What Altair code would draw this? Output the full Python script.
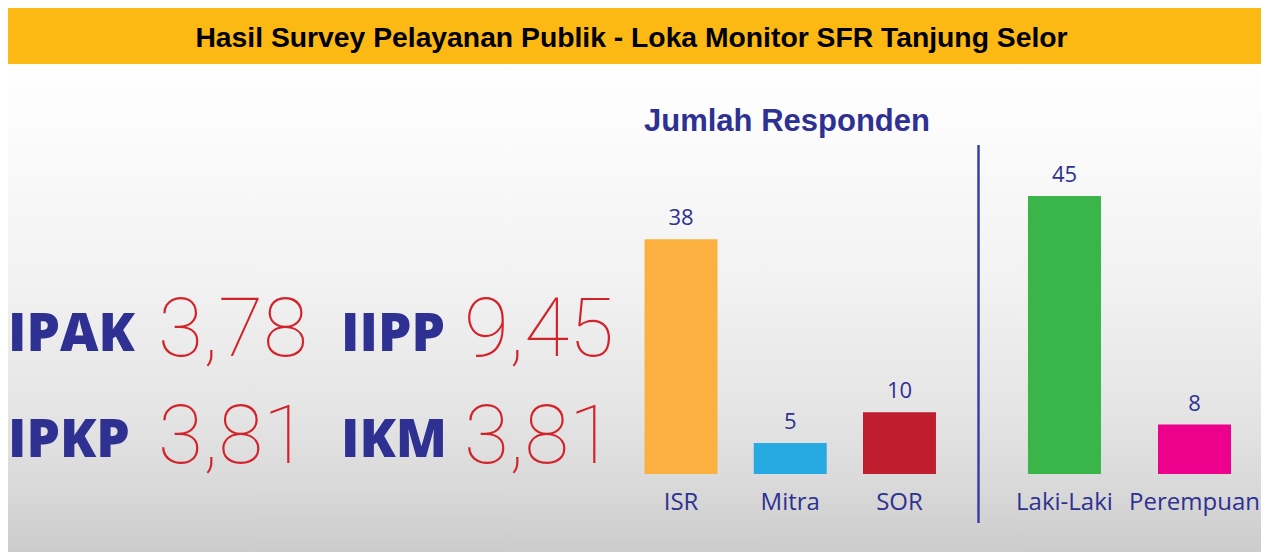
import altair as alt
import pandas as pd

# ---------------- data ----------------
title_text = "Hasil Survey Pelayanan Publik - Loka Monitor SFR Tanjung Selor"
subtitle_text = "Jumlah Responden"

index_names = ["IPAK", "IIPP", "IPKP", "IKM"]
index_values = ["3,78", "9,45", "3,81", "3,81"]

group1_cats = ["ISR", "Mitra", "SOR"]
group1_vals = [38, 5, 10]
group1_colors = ["#FBB040", "#27AAE1", "#BE1E2D"]

group2_cats = ["Laki-Laki", "Perempuan"]
group2_vals = [45, 8]
group2_colors = ["#39B54A", "#EC008C"]

# ---------------- layout / style ----------------
W, H = 1253, 544
NAVY = "#2E3192"
RED = "#D2232A"
YELLOW = "#FCB813"

one = pd.DataFrame({"k": [0]})

bg = alt.Chart(one).mark_rect(
    color=alt.LinearGradient(
        gradient="linear", x1=0, x2=0, y1=0, y2=1,
        stops=[
            alt.GradientStop(color="#ffffff", offset=0),
            alt.GradientStop(color="#fdfdfd", offset=0.18),
            alt.GradientStop(color="#f2f2f2", offset=0.5),
            alt.GradientStop(color="#e4e4e4", offset=0.75),
            alt.GradientStop(color="#d9d9d9", offset=0.88),
            alt.GradientStop(color="#cccccc", offset=1),
        ],
    )
).encode(x=alt.value(0), x2=alt.value(W), y=alt.value(0), y2=alt.value(H))

title_bar = alt.Chart(one).mark_rect(color=YELLOW).encode(
    x=alt.value(0), x2=alt.value(W), y=alt.value(0), y2=alt.value(56)
)

title = alt.Chart(pd.DataFrame({"t": [title_text]})).mark_text(
    font="Liberation Sans", fontSize=28.3, fontWeight="bold", color="#000000",
    align="center", baseline="alphabetic",
).encode(x=alt.value(623.5), y=alt.value(39), text="t:N")

subtitle = alt.Chart(pd.DataFrame({"t": [subtitle_text]})).mark_text(
    font="Liberation Sans", fontSize=31, fontWeight="bold", color=NAVY,
    align="left", baseline="alphabetic",
).encode(x=alt.value(636), y=alt.value(123), text="t:N")

name_x = [0, 333, 0, 333]
name_y = [343, 343, 449, 449]
val_x = [150, 456, 150, 456]
val_y = [347.5, 347.5, 454.5, 454.5]

index_layers = []
for i in range(len(index_names)):
    d = pd.DataFrame({"name": [index_names[i]], "value": [index_values[i]]})
    index_layers.append(
        alt.Chart(d).mark_text(
            font="Open Sans", fontSize=53, fontWeight=800, color=NAVY,
            align="left", baseline="alphabetic",
        ).encode(x=alt.value(name_x[i]), y=alt.value(name_y[i]), text="name:N")
    )
    index_layers.append(
        alt.Chart(d).mark_text(
            font="Roboto", fontSize=82, fontWeight=100, color=RED,
            align="left", baseline="alphabetic",
        ).encode(x=alt.value(val_x[i]), y=alt.value(val_y[i]), text="value:N")
    )

divider = alt.Chart(one).mark_rule(color="#3B40A0", strokeWidth=2.5).encode(
    x=alt.value(970.5), y=alt.value(137), y2=alt.value(515)
)


def bar_group(cats, vals, colors, rng, pi, po):
    df = pd.DataFrame({"cat": cats, "val": vals})
    xs = alt.X(
        "cat:N", sort=cats, axis=None,
        scale=alt.Scale(domain=cats, range=rng, paddingInner=pi, paddingOuter=po),
    )
    ys = alt.Y("val:Q", axis=None, scale=alt.Scale(domain=[0, 50], range=[466, 157]))
    bars = alt.Chart(df).mark_bar().encode(
        x=xs, y=ys,
        color=alt.Color("cat:N", legend=None, scale=alt.Scale(domain=cats, range=colors)),
    )
    vlab = alt.Chart(df).mark_text(
        dy=-14, baseline="alphabetic", align="center",
        font="Open Sans", fontSize=22, color=NAVY,
    ).encode(x=xs, y=ys, text="val:Q")
    clab = alt.Chart(df).mark_text(
        baseline="alphabetic", align="center",
        font="Open Sans", fontSize=24, color=NAVY,
    ).encode(x=xs, y=alt.value(502), text="cat:N")
    return alt.layer(bars, vlab, clab)


g1 = bar_group(group1_cats, group1_vals, group1_colors, [618.4, 946.1], 0.332, 0.166)
g2 = bar_group(group2_cats, group2_vals, group2_colors, [991.5, 1251.5], 0.4385, 0.219)

chart = alt.layer(
    bg, title_bar, title, subtitle, *index_layers, divider, g1, g2
).resolve_scale(
    x="independent", color="independent"
).properties(
    width=W, height=H, padding=0, autosize="none"
).configure_view(stroke=None)

chart.save("out.html", embed_options={"renderer": "svg", "actions": False})
